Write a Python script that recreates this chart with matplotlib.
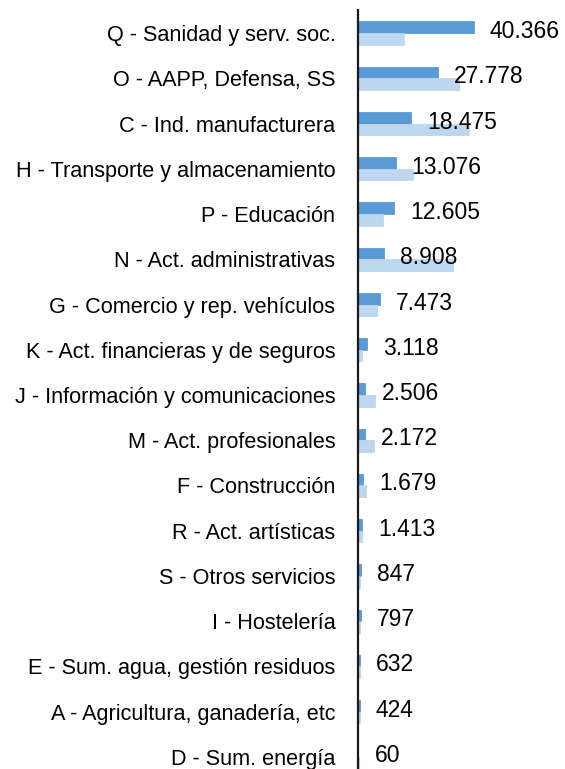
import matplotlib
matplotlib.use("Agg")
import matplotlib.pyplot as plt
import numpy as np

plt.rcParams['font.family'] = ['Liberation Sans', 'DejaVu Sans']

categories = [
    "Q - Sanidad y serv. soc.",
    "O - AAPP, Defensa, SS",
    "C - Ind. manufacturera",
    "H - Transporte y almacenamiento",
    "P - Educación",
    "N - Act. administrativas",
    "G - Comercio y rep. vehículos",
    "K - Act. financieras y de seguros",
    "J - Información y comunicaciones",
    "M - Act. profesionales",
    "F - Construcción",
    "R - Act. artísticas",
    "S - Otros servicios",
    "I - Hostelería",
    "E - Sum. agua, gestión residuos",
    "A - Agricultura, ganadería, etc",
    "D - Sum. energía",
]
serie_oscura = [40366, 27778, 18475, 13076, 12605, 8908, 7473, 3118, 2506,
                2172, 1679, 1413, 847, 797, 632, 424, 60]
serie_clara = [15900, 35300, 38800, 19300, 8800, 33300, 6700, 1300, 6000,
               5400, 2600, 1200, 700, 600, 550, 450, 150]
etiquetas = ["40.366", "27.778", "18.475", "13.076", "12.605", "8.908", "7.473",
             "3.118", "2.506", "2.172", "1.679", "1.413", "847", "797", "632",
             "424", "60"]

W, H = 565, 769
fig = plt.figure(figsize=(W / 100, H / 100), dpi=100)
ax = fig.add_axes([358.3 / W, 0, 1 - 358.3 / W, 1 - 10.5 / H])

y = np.arange(len(categories))
h = 0.258
ax.barh(y - h / 2, serie_oscura, height=h, color="#5B9BD5",
        edgecolor="#5B9BD5", linewidth=0.6)
ax.barh(y + h / 2, serie_clara, height=h, color="#BDD7EE",
        edgecolor="#BDD7EE", linewidth=0.6)

px = 350  # data units per pixel
for yi, v, t in zip(y, serie_oscura, etiquetas):
    ax.text(max(v, 300) + 16 * px, yi + 0.11, t, va="baseline", ha="left",
            fontsize=16.5, color="black", clip_on=False)

ax.set_xlim(0, (W - 358.3) * px)
ax.set_ylim(16.5 - 10.5 / 45.2, -0.5)
ax.set_yticks(y)
ax.set_yticklabels(categories, fontsize=15.6)
ax.tick_params(axis="y", length=0, pad=16.5)
ax.set_xticks([])
for s in ["top", "right", "bottom"]:
    ax.spines[s].set_visible(False)
ax.spines["left"].set_linewidth(1.6)
ax.spines["left"].set_color("#1a1a1a")
ax.spines["left"].set_zorder(3)

fig.savefig("out.png", dpi=100)
